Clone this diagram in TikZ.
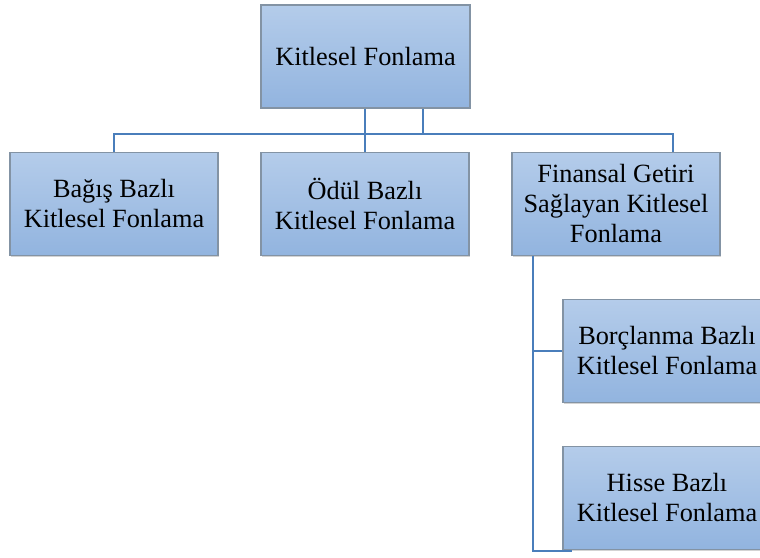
\documentclass[tikz,border=0pt]{standalone}
\usepackage{fontspec}
\setmainfont{Liberation Serif}
\usetikzlibrary{shadows}
\definecolor{boxtop}{HTML}{B4CCEA}
\definecolor{boxbot}{HTML}{92B4DF}
\definecolor{boxedge}{HTML}{8393A4}
\definecolor{linkblue}{HTML}{4A7EBB}
\tikzset{
  unit/.style={
    rectangle, draw=boxedge, line width=1.3pt,
    top color=boxtop, bottom color=boxbot,
    minimum width=208pt, minimum height=103pt,
    align=center, inner sep=2pt,
    font=\fontsize{26.3}{30}\selectfont,
    drop shadow={shadow xshift=1.2pt, shadow yshift=-1.2pt, opacity=0.35}
  },
  link/.style={draw=linkblue, line width=2.5pt}
}
\begin{document}
\begin{tikzpicture}[x=1pt,y=1pt]
  \useasboundingbox (0,0) rectangle (760,557);
  \clip (0,0) rectangle (760,557);

  % organisation chart boxes
  \node[unit, minimum width=209pt] (top) at (365.5,500.5) {Kitlesel Fonlama};
  \node[unit] (bag)  at (114,353) {Bağış Bazlı\\Kitlesel Fonlama};
  \node[unit] (odul) at (365,353) {Ödül Bazlı\\Kitlesel Fonlama};
  \node[unit] (fin)  at (616,353) {Finansal Getiri\\Sağlayan Kitlesel\\Fonlama};
  \node[unit] (bor)  at (667,206) {Borçlanma Bazlı\\Kitlesel Fonlama};
  \node[unit] (his)  at (667,59)  {Hisse Bazlı\\Kitlesel Fonlama};

  % junction points of the connectors
  \coordinate (jr) at (423,423);
  \coordinate (jf) at (673,423);
  \coordinate (sp) at (533,6);
  \coordinate (spEnd) at (572,6);

  % connectors
  \draw[link] (top.south -| odul.north) -- (odul.north);
  \draw[link] (top.south -| jr) -- (jr);
  \draw[link] (bag.north) |- (jf) -- (fin.north -| jf);
  \draw[link] (fin.south -| sp) -- (sp) -- (spEnd);
  \draw[link] (sp |- bor.west) -- (bor.west);
\end{tikzpicture}
\end{document}
